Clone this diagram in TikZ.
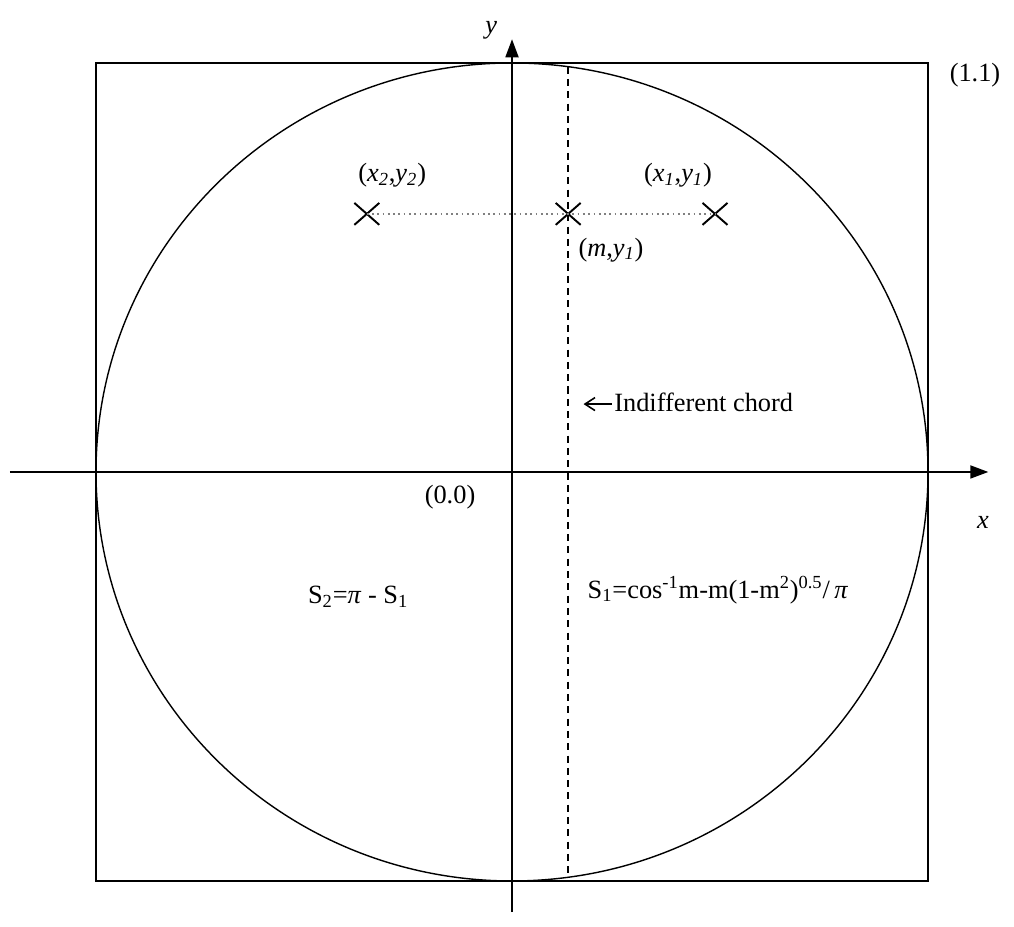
\documentclass[tikz,border=0pt]{standalone}
\usepackage{fontspec}
\setmainfont{Liberation Serif}
\usetikzlibrary{arrows.meta, positioning, shapes.misc}

\tikzset{
  xmark/.style={draw, cross out, line width=1.1pt, minimum width=0.46cm, minimum height=0.4cm, inner sep=0pt},
  lbl/.style={inner sep=1pt},
  axisline/.style={line width=1pt, -{Triangle[length=3.6mm, width=2.6mm]}}
}

\begin{document}
\begin{tikzpicture}[x=8.32cm, y=8.18cm, line width=0.8pt, font=\fontsize{15}{18}\selectfont]

\useasboundingbox (-1.2308,-1.1125) rectangle (1.2067,1.154);

% Square and unit circle
\draw (-1,-1) rectangle (1,1);
\draw (0,0) ellipse [x radius=8.32cm, y radius=8.18cm];

% Indifferent chord
\coordinate (chtop) at (0.135,0.991);
\coordinate (chbot) at (0.135,-0.991);
\draw[dash pattern=on 4pt off 3pt] (chtop) -- (chbot);

% Axes
\coordinate (xl) at (-1.207,0);
\coordinate (xr) at (1.145,0);
\coordinate (yb) at (0,-1.076);
\coordinate (yt) at (0,1.058);
\draw[axisline] (xl) -- (xr);
\draw[axisline] (yb) -- (yt);

\node[lbl] (xlab) at (1.132,-0.124) {\textit{x}};
\node[lbl] (ylab) at (-0.050,1.081) {\textit{y}};
\node[lbl] (orig) at (-0.149,-0.061) {(0.0)};
\node[lbl] (corner) at (1.113,0.971) {(1.1)};

% Points on the horizontal line
\node[xmark] (p2) at (-0.349,0.631) {};
\node[xmark] (pm) at (0.135,0.631) {};
\node[xmark] (p1) at (0.488,0.631) {};
\draw[gray, dotted, line width=1pt] (p2.center) -- (p1.center);

\node[lbl] (p2lab) at (-0.288,0.726) {(\textit{x}\textsubscript{\textit{2}},\textit{y}\textsubscript{\textit{2}})};
\node[lbl] (p1lab) at (0.399,0.726) {(\textit{x}\textsubscript{\textit{1}},\textit{y}\textsubscript{\textit{1}})};
\node[lbl] (pmlab) at (0.238,0.543) {(\textit{m},\textit{y}\textsubscript{\textit{1}})};

% Chord label
\node[lbl, right] (chlab) at (0.240,0.171) {Indifferent chord};
\coordinate (chtip) at (0.172,0.166);
\draw[-{Straight Barb[length=2mm, width=2.6mm]}, line width=0.9pt] (chlab.west |- chtip) -- (chtip);

% Areas
\node[lbl] (s2) at (-0.370,-0.306) {S\textsubscript{2}=\textit{π} - S\textsubscript{1}};
\node[lbl] (s1) at (0.495,-0.289) {S\textsubscript{1}=cos\textsuperscript{-1}m-m(1-m\textsuperscript{2})\textsuperscript{0.5}/\,\textit{π}};

\end{tikzpicture}
\end{document}
